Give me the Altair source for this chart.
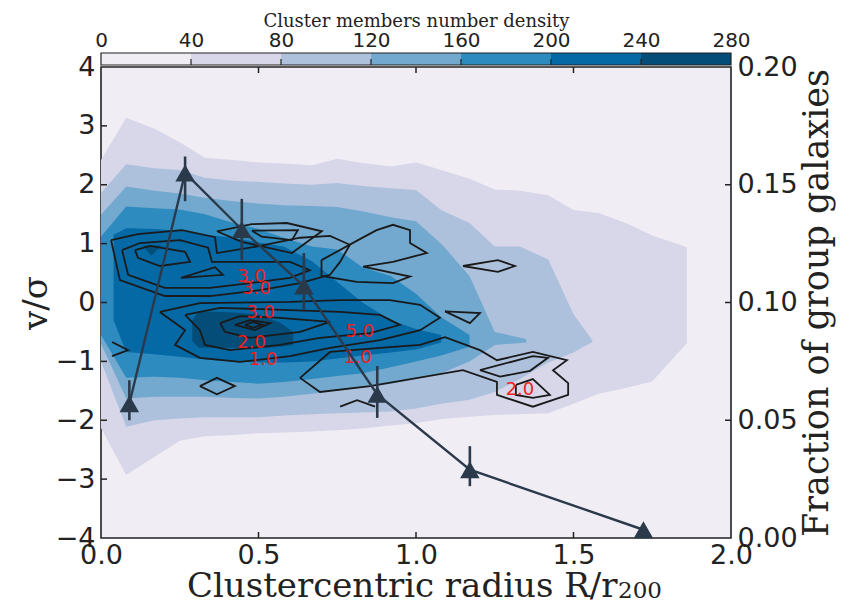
import altair as alt
import pandas as pd

SANS = "DejaVu Sans"
SERIF = "DejaVu Serif"
W, H = 630, 471

# ---------------- colour levels (PuBu) ----------------
LEVEL_COLORS = ["#f1edf5", "#d8d7e9", "#adc1dd", "#74a9cf", "#2d8bbf", "#0569a6", "#034d78"]
CB_EDGES = [0, 40, 80, 120, 160, 200, 240, 280]

# ---------------- filled contour levels (x, upper, lower) ----------------
lev1_x = [0, 0.08, 0.17, 0.25, 0.33, 0.42, 0.5, 0.58, 0.67, 0.75, 0.83, 0.92, 1.0, 1.08, 1.17, 1.25, 1.33, 1.42, 1.5, 1.58, 1.67, 1.75, 1.86]
lev1_top = [2.42, 3.14, 2.95, 2.72, 2.46, 2.42, 2.38, 2.36, 2.33, 2.44, 2.37, 2.31, 2.38, 2.25, 2.10, 1.92, 1.90, 1.82, 1.57, 1.52, 1.34, 1.14, 0.94]
lev1_bot = [-2.13, -2.93, -2.62, -2.35, -2.27, -2.25, -2.22, -2.21, -2.19, -2.17, -2.14, -2.09, -2.05, -1.98, -1.94, -1.91, -1.90, -1.88, -1.72, -1.55, -1.45, -1.34, -0.69]

lev2_x = [0, 0.08, 0.17, 0.25, 0.33, 0.42, 0.5, 0.58, 0.67, 0.75, 0.83, 0.92, 1.0, 1.08, 1.17, 1.25, 1.33, 1.42, 1.5, 1.56]
lev2_top = [1.86, 2.35, 2.28, 2.25, 2.12, 2.07, 2.05, 2.02, 2.0, 2.03, 1.98, 1.94, 1.91, 1.57, 1.35, 0.95, 0.95, 0.73, -0.2, -0.64]
lev2_bot = [-1.0, -2.11, -2.0, -1.97, -1.95, -1.95, -1.95, -1.92, -1.9, -1.88, -1.87, -1.85, -1.8, -1.72, -1.65, -1.52, -1.3, -1.02, -0.85, -0.67]

lev3_x = [0, 0.08, 0.17, 0.25, 0.33, 0.42, 0.5, 0.58, 0.67, 0.75, 0.83, 0.92, 1.0, 1.08, 1.17, 1.25, 1.35]
lev3_top = [1.49, 1.97, 1.90, 1.85, 1.78, 1.72, 1.68, 1.65, 1.64, 1.62, 1.55, 1.45, 1.38, 1.0, 0.45, -0.5, -0.62]
lev3_bot = [-0.7, -1.63, -1.6, -1.6, -1.6, -1.62, -1.63, -1.6, -1.55, -1.5, -1.45, -1.38, -1.3, -1.2, -1.0, -0.72, -0.68]

lev4_x = [0, 0.08, 0.17, 0.25, 0.33, 0.42, 0.5, 0.58, 0.67, 0.75, 0.83, 0.92, 1.0, 1.08, 1.17]
lev4_top = [1.12, 1.63, 1.6, 1.58, 1.5, 1.35, 1.25, 1.1, 0.95, 0.9, 0.6, 0.45, 0.15, -0.25, -0.55]
lev4_bot = [-0.55, -1.28, -1.26, -1.28, -1.32, -1.35, -1.38, -1.35, -1.3, -1.25, -1.2, -1.1, -1.0, -0.9, -0.75]

lev5_x = [0.04, 0.08, 0.17, 0.25, 0.33, 0.42, 0.5, 0.58, 0.67, 0.75, 0.83, 0.92, 1.0, 1.08]
lev5_top = [1.15, 1.26, 1.25, 1.22, 1.15, 1.1, 1.02, 0.95, 0.7, 0.35, 0.0, -0.3, -0.45, -0.55]
lev5_bot = [-0.3, -0.84, -0.88, -0.92, -0.97, -1.0, -1.02, -1.02, -1.0, -0.95, -0.9, -0.85, -0.8, -0.68]

lev6_x = [0.29, 0.31, 0.42, 0.5, 0.57, 0.61]
lev6_top = [-0.3, -0.15, -0.17, -0.2, -0.35, -0.5]
lev6_bot = [-0.65, -0.77, -0.77, -0.78, -0.75, -0.72]
lev6b_x = [0.135, 0.16, 0.19]
lev6b_top = [0.97, 0.97, 0.97]
lev6b_bot = [0.95, 0.80, 0.95]

# ---------------- line contours (group galaxies density) ----------------
loop_u1 = [(0.032, 1.06), (0.117, 1.16), (0.257, 1.23), (0.362, 1.11), (0.368, 0.84), (0.505, 0.96), (0.632, 1.10), (0.727, 1.13), (0.79, 0.98), (0.759, 0.69), (0.727, 0.47), (0.632, 0.33), (0.505, 0.21), (0.346, 0.11), (0.203, 0.11), (0.06, 0.38), (0.032, 1.06)]
loop_u2 = [(0.067, 0.89), (0.124, 1.01), (0.251, 1.06), (0.340, 0.93), (0.352, 0.69), (0.473, 0.69), (0.600, 0.69), (0.663, 0.55), (0.600, 0.42), (0.473, 0.33), (0.346, 0.25), (0.203, 0.25), (0.086, 0.47), (0.067, 0.89)]
loop_u3 = [(0.108, 0.89), (0.156, 0.96), (0.267, 0.86), (0.283, 0.69), (0.187, 0.62), (0.117, 0.76), (0.108, 0.89)]
loop_u4 = [(0.254, 0.42), (0.362, 0.60), (0.387, 0.47), (0.254, 0.42)]
loop_u5 = [(0.368, 1.21), (0.479, 1.33), (0.590, 1.35), (0.701, 1.21), (0.606, 0.84), (0.447, 1.03), (0.368, 1.21)]
loop_u6 = [(0.479, 1.22), (0.625, 1.23), (0.606, 1.06), (0.51, 1.12), (0.479, 1.22)]
loop_u7 = [(0.70, 0.72), (0.816, 1.06), (0.875, 1.23), (0.927, 1.32), (0.981, 1.23), (0.981, 1.01), (1.034, 0.84), (0.927, 0.69), (0.832, 0.61), (0.981, 0.44), (0.927, 0.33), (0.812, 0.35), (0.70, 0.45), (0.70, 0.72)]
loop_l1 = [(0.187, -0.16), (0.314, -0.01), (0.600, 0.01), (0.759, 0.04), (0.917, 0.04), (1.013, -0.04), (1.076, -0.26), (1.013, -0.47), (0.886, -0.64), (0.727, -0.77), (0.600, -0.91), (0.441, -1.01), (0.314, -0.94), (0.235, -0.72), (0.267, -0.47), (0.187, -0.16)]
loop_l2 = [(0.267, -0.21), (0.378, -0.09), (0.600, -0.13), (0.759, -0.16), (0.886, -0.21), (0.949, -0.38), (0.854, -0.52), (0.695, -0.60), (0.568, -0.72), (0.410, -0.81), (0.330, -0.72), (0.314, -0.47), (0.267, -0.21)]
loop_l3 = [(0.378, -0.35), (0.441, -0.23), (0.568, -0.26), (0.727, -0.33), (0.632, -0.50), (0.473, -0.60), (0.394, -0.50), (0.378, -0.35)]
loop_l4 = [(0.425, -0.38), (0.473, -0.30), (0.537, -0.35), (0.489, -0.47), (0.425, -0.38)]
loop_l5 = [(0.457, -0.38), (0.483, -0.33), (0.511, -0.38), (0.483, -0.43), (0.457, -0.38)]
loop_r0 = [(1.092, -0.15), (1.203, -0.18), (1.171, -0.35), (1.092, -0.15)]
loop_r1 = [(0.632, -1.28), (0.695, -1.52), (0.854, -1.42), (1.149, -1.15), (1.257, -1.35), (1.257, -1.57), (1.371, -1.77), (1.483, -1.57), (1.483, -1.37), (1.435, -1.15), (1.479, -0.98), (1.371, -0.84), (1.257, -0.98), (1.203, -0.81), (1.092, -0.59), (1.013, -0.72), (0.886, -0.77), (0.727, -0.84), (0.632, -1.28)]
loop_r2 = [(1.203, -1.15), (1.267, -1.26), (1.362, -1.16), (1.419, -0.94), (1.371, -0.91), (1.203, -1.15)]
loop_r3 = [(1.317, -1.40), (1.371, -1.30), (1.425, -1.57), (1.371, -1.62), (1.317, -1.57), (1.317, -1.40)]
loop_d1 = [(0.314, -1.42), (0.368, -1.28), (0.425, -1.42), (0.368, -1.56), (0.314, -1.42)]
loop_d2 = [(1.149, 0.62), (1.26, 0.72), (1.314, 0.62), (1.26, 0.52), (1.149, 0.62)]
open_o1 = [(0.035, -0.67), (0.086, -0.81), (0.035, -0.91)]
open_o2 = [(0.759, -1.77), (0.813, -1.66), (0.870, -1.77)]

# ---------------- contour labels ----------------
clabel_text = ["3.0", "3.0", "3.0", "2.0", "1.0", "5.0", "1.0", "2.0"]
clabel_x = [0.478, 0.494, 0.507, 0.478, 0.515, 0.822, 0.815, 1.330]
clabel_y = [0.438, 0.225, -0.174, -0.696, -0.976, -0.498, -0.951, -1.491]

# ---------------- fraction of group galaxies ----------------
frac_x = [0.09, 0.267, 0.447, 0.644, 0.877, 1.171, 1.722]
frac_y = [0.057, 0.155, 0.131, 0.107, 0.061, 0.029, 0.0035]
frac_lo = [0.050, 0.143, 0.118, 0.097, 0.051, 0.022, 0.0035]
frac_hi = [0.067, 0.162, 0.144, 0.121, 0.073, 0.039, 0.0035]

# ---------------- ticks & titles ----------------
x_ticks = [0.0, 0.5, 1.0, 1.5, 2.0]
y_ticks = [-4, -3, -2, -1, 0, 1, 2, 3, 4]
f_ticks = [0.0, 0.05, 0.10, 0.15, 0.20]
x_title_main = "Clustercentric radius R/r"
x_title_sub = "200"

# =========================================================
def xsc():
    return alt.Scale(domain=[0, 2], nice=False, zero=False)


def ysc():
    return alt.Scale(domain=[-4, 4], nice=False, zero=False)


def fsc():
    return alt.Scale(domain=[0, 0.2], nice=False, zero=False)


cbsc = alt.Scale(domain=[0, 280], nice=False, zero=False)
TICK_FS = 27

x_axis = alt.Axis(values=x_ticks, format=".1f", ticks=False, grid=False, domain=False,
                  orient="bottom", labelFont=SANS, labelFontSize=TICK_FS, labelPadding=4,
                  labelFlush=False, labelOverlap=False, title=x_title_main,
                  titleFont=SERIF, titleFontSize=34, titleFontWeight="normal",
                  titleX=516, titleY=58, titleAlign="right", titleBaseline="alphabetic",
                  titleAngle=0)
y_axis = alt.Axis(values=y_ticks, format="d", ticks=False, grid=False, domain=False,
                  orient="left", labelFont=SANS, labelFontSize=TICK_FS, labelPadding=6,
                  labelOverlap=False, title="v/σ", titleFont=SERIF, titleFontSize=34,
                  titleFontWeight="normal", titleAngle=270, titleX=-55, titleY=H / 2,
                  titleAlign="center", titleBaseline="alphabetic")
f_axis = alt.Axis(values=f_ticks, format=".2f", orient="right", ticks=False, grid=False,
                  domain=False, labelFont=SANS, labelFontSize=TICK_FS, labelPadding=6,
                  labelOverlap=False, title="Fraction of group galaxies", titleAngle=270,
                  titleFont=SERIF, titleFontSize=35, titleFontWeight="normal",
                  titleX=96, titleY=H / 2, titleAlign="center", titleBaseline="alphabetic")
cb_axis = alt.Axis(values=CB_EDGES, format="d", orient="top", ticks=False, grid=False,
                   domain=False, offset=14, labelFont=SANS, labelFontSize=20, labelPadding=3,
                   labelFlush=False, labelOverlap=False, title="Cluster members number density",
                   titleFont=SERIF, titleFontSize=18, titleFontWeight="normal", titlePadding=0)


def level_frame(xs, tops, bots, part):
    return pd.DataFrame({"x": xs, "top": tops, "bot": bots, "part": part})


levels = [
    (level_frame(lev1_x, lev1_top, lev1_bot, "a"), LEVEL_COLORS[1]),
    (level_frame(lev2_x, lev2_top, lev2_bot, "a"), LEVEL_COLORS[2]),
    (level_frame(lev3_x, lev3_top, lev3_bot, "a"), LEVEL_COLORS[3]),
    (level_frame(lev4_x, lev4_top, lev4_bot, "a"), LEVEL_COLORS[4]),
    (level_frame(lev5_x, lev5_top, lev5_bot, "a"), LEVEL_COLORS[5]),
    (pd.concat([level_frame(lev6_x, lev6_top, lev6_bot, "a"),
                level_frame(lev6b_x, lev6b_top, lev6b_bot, "b")]), LEVEL_COLORS[6]),
]

layers = []
for i, (df, col) in enumerate(levels):
    layers.append(
        alt.Chart(df).mark_area(color=col, interpolate="linear").encode(
            x=alt.X("x:Q", scale=xsc(), axis=x_axis if i == 0 else None),
            y=alt.Y("top:Q", scale=ysc(), axis=y_axis if i == 0 else None),
            y2="bot:Q",
            detail="part:N",
        )
    )

loops = {
    "u1": loop_u1, "u2": loop_u2, "u3": loop_u3, "u4": loop_u4, "u5": loop_u5,
    "u6": loop_u6, "u7": loop_u7, "l1": loop_l1, "l2": loop_l2, "l3": loop_l3,
    "l4": loop_l4, "l5": loop_l5, "r0": loop_r0, "r1": loop_r1, "r2": loop_r2,
    "r3": loop_r3, "d1": loop_d1, "d2": loop_d2, "o1": open_o1, "o2": open_o2,
}
rows = []
for name, pts in loops.items():
    for k, (px, py) in enumerate(pts):
        rows.append({"loop": name, "k": k, "x": px, "y": py})
contour_df = pd.DataFrame(rows)

layers.append(
    alt.Chart(contour_df).mark_line(color="#1a1a1a", strokeWidth=1.8, strokeJoin="miter").encode(
        x=alt.X("x:Q", scale=xsc(), axis=None),
        y=alt.Y("y:Q", scale=ysc(), axis=None),
        detail="loop:N",
        order="k:Q",
    )
)

label_df = pd.DataFrame({"t": clabel_text, "x": clabel_x, "y": clabel_y})
layers.append(
    alt.Chart(label_df).mark_text(color="#f01e1e", font=SANS, fontSize=18, baseline="middle",
                                  align="center").encode(
        x=alt.X("x:Q", scale=xsc(), axis=None),
        y=alt.Y("y:Q", scale=ysc(), axis=None),
        text="t:N",
    )
)

# inward ticks
inner_x = pd.DataFrame({"x": x_ticks[1:-1]})
inner_y = pd.DataFrame({"y": y_ticks[1:-1]})
layers.append(
    alt.Chart(inner_x).mark_rule(color="#222", strokeWidth=1.5).encode(
        x=alt.X("x:Q", scale=xsc(), axis=None), y=alt.value(H), y2=alt.value(H - 6)))
layers.append(
    alt.Chart(inner_x).mark_rule(color="#222", strokeWidth=1.5).encode(
        x=alt.X("x:Q", scale=xsc(), axis=None), y=alt.value(0), y2=alt.value(6)))
layers.append(
    alt.Chart(inner_y).mark_rule(color="#222", strokeWidth=1.5).encode(
        y=alt.Y("y:Q", scale=ysc(), axis=None), x=alt.value(0), x2=alt.value(6)))

frac_df = pd.DataFrame({"x": frac_x, "f": frac_y, "lo": frac_lo, "hi": frac_hi})
LINE_COL = "#2b3a4b"
layers += [
    alt.Chart(frac_df).mark_rule(color=LINE_COL, strokeWidth=2.6).encode(
        x=alt.X("x:Q", scale=xsc(), axis=None),
        y=alt.Y("lo:Q", scale=fsc(), axis=f_axis),
        y2="hi:Q"),
    alt.Chart(frac_df).mark_line(color=LINE_COL, strokeWidth=2.4).encode(
        x=alt.X("x:Q", scale=xsc(), axis=None),
        y=alt.Y("f:Q", scale=fsc(), axis=None)),
    alt.Chart(frac_df).mark_point(shape="triangle-up", filled=True, size=380, opacity=1,
                                  color=LINE_COL).encode(
        x=alt.X("x:Q", scale=xsc(), axis=None),
        y=alt.Y("f:Q", scale=fsc(), axis=None)),
    alt.Chart(pd.DataFrame({"f": f_ticks[1:-1]})).mark_rule(color="#222", strokeWidth=1.5).encode(
        y=alt.Y("f:Q", scale=fsc(), axis=None), x=alt.value(W), x2=alt.value(W - 6)),
]

# subscript of the x title
layers.append(
    alt.Chart(pd.DataFrame({"t": [x_title_sub]})).mark_text(
        font=SERIF, fontSize=23, color="#222", align="left", baseline="alphabetic").encode(
        x=alt.value(517), y=alt.value(531), text="t:N")
)

cb_df = pd.DataFrame({"lo": CB_EDGES[:-1], "hi": CB_EDGES[1:], "c": LEVEL_COLORS})
layers += [
    alt.Chart(cb_df).mark_rect().encode(
        x=alt.X("lo:Q", scale=cbsc, axis=cb_axis),
        x2="hi:Q",
        y=alt.value(-14), y2=alt.value(-2),
        color=alt.Color("c:N", scale=None, legend=None),
    ),
    alt.Chart(pd.DataFrame({"lo": [CB_EDGES[0]], "hi": [CB_EDGES[-1]]})).mark_rect(
        fillOpacity=0, stroke="#222", strokeWidth=1.2).encode(
        x=alt.X("lo:Q", scale=cbsc, axis=None), x2="hi:Q",
        y=alt.value(-14), y2=alt.value(-2)),
    alt.Chart(pd.DataFrame({"v": CB_EDGES[1:-1]})).mark_rule(color="#222", strokeWidth=1.2).encode(
        x=alt.X("v:Q", scale=cbsc, axis=None), y=alt.value(-8), y2=alt.value(-2)),
]

chart = alt.layer(*layers).resolve_scale(x="independent", y="independent").properties(
    width=W, height=H,
    autosize=alt.AutoSizeParams(type="none"),
    padding={"left": 93, "top": 59, "right": 105, "bottom": 66},
).configure_view(
    fill=LEVEL_COLORS[0], stroke="#222", strokeWidth=1.6
).configure_axis(
    labelColor="#222", titleColor="#222"
)

chart.save("out.html", embed_options={"renderer": "svg", "actions": False})
